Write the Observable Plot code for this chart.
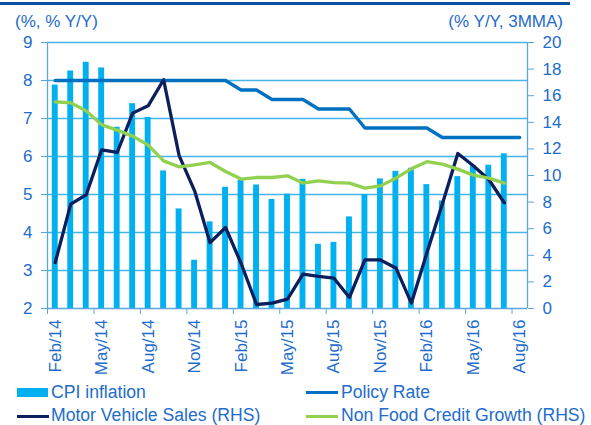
<!DOCTYPE html>
<html>
<head>
<meta charset="utf-8">
<script src="https://cdn.jsdelivr.net/npm/d3@7"></script>
<script src="https://cdn.jsdelivr.net/npm/@observablehq/plot@0.6"></script>
<style>
  html, body { margin: 0; padding: 0; background: #ffffff; }
  #wrap { position: relative; width: 591px; height: 425px; font-family: "Liberation Sans", Arial, sans-serif; color: #1e6ccc; overflow: hidden; }
  #chart { position: absolute; left: 0; top: 0; }
  .topline { position: absolute; left: 0; top: 2px; width: 570px; height: 3px; background: #0b4ea2; }
  .ttl { position: absolute; font-size: 17px; line-height: 20px; white-space: nowrap; }
  .leg { position: absolute; font-size: 17.6px; line-height: 20px; white-space: nowrap; }
  .sw { position: absolute; }
</style>
</head>
<body>
<div id="wrap">
  <div class="topline"></div>
  <div class="ttl" style="left:15px; top:12px;">(%, % Y/Y)</div>
  <div class="ttl" style="right:28px; top:12px;">(% Y/Y, 3MMA)</div>
  <div id="chart"></div>
  <div id="legend"></div>
</div>
<script>
const months = ["Feb/14","Mar/14","Apr/14","May/14","Jun/14","Jul/14","Aug/14","Sep/14","Oct/14","Nov/14","Dec/14","Jan/15",
  "Feb/15","Mar/15","Apr/15","May/15","Jun/15","Jul/15","Aug/15","Sep/15","Oct/15","Nov/15","Dec/15","Jan/16",
  "Feb/16","Mar/16","Apr/16","May/16","Jun/16","Jul/16","Aug/16"];

// CPI inflation (%, left axis)
const cpi = [7.88, 8.25, 8.48, 8.33, 6.77, 7.39, 7.03, 5.62, 4.62, 3.27, 4.28, 5.19,
  5.37, 5.25, 4.87, 5.01, 5.40, 3.69, 3.74, 4.41, 5.00, 5.41, 5.61, 5.69,
  5.26, 4.83, 5.47, 5.76, 5.77, 6.07];

// Policy rate (%, left axis)
const policy = [8, 8, 8, 8, 8, 8, 8, 8, 8, 8, 8, 8,
  7.75, 7.75, 7.5, 7.5, 7.5, 7.25, 7.25, 7.25, 6.75, 6.75, 6.75, 6.75,
  6.75, 6.5, 6.5, 6.5, 6.5, 6.5, 6.5];

// Motor vehicle sales (% Y/Y, 3MMA, right axis)
const motor = [3.46, 7.85, 8.55, 11.93, 11.73, 14.69, 15.24, 17.2, 11.5, 8.85, 4.95, 6.09,
  3.4, 0.3, 0.4, 0.7, 2.58, 2.41, 2.28, 0.83, 3.66, 3.65, 3.05, 0.4,
  4.17, 7.86, 11.65, 10.73, 9.7, 7.95];

// Non food credit growth (% Y/Y, 3MMA, right axis)
const credit = [15.54, 15.47, 14.86, 13.81, 13.41, 12.96, 12.29, 11.1, 10.65, 10.8, 10.98, 10.3,
  9.73, 9.85, 9.85, 9.98, 9.43, 9.6, 9.47, 9.43, 9.05, 9.22, 9.8, 10.5,
  11.04, 10.85, 10.48, 10.03, 9.8, 9.43];

const leftTicks = [2, 3, 4, 5, 6, 7, 8, 9];
const rightTicks = [0, 2, 4, 6, 8, 10, 12, 14, 16, 18, 20];
const labelIdx = [0, 3, 6, 9, 12, 15, 18, 21, 24, 27, 30];

// map right-axis values (0..20) onto left scale (2..9)
const toLeft = v => 2 + v * 7 / 20;
const fromLeft = v => (v - 2) * 20 / 7;

const cpiRows = cpi.map((v, i) => ({i, v}));
const policyRows = policy.map((v, i) => ({i, v}));
const motorRows = motor.map((v, i) => ({i, v: toLeft(v)}));
const creditRows = credit.map((v, i) => ({i, v: toLeft(v)}));

const textColor = "#1e6ccc";
const gridColor = "#45b4e8";
const axisColor = "#5aa5e0";

const chart = Plot.plot({
  width: 591,
  height: 375,
  marginTop: 42,
  marginBottom: 67,
  marginLeft: 47,
  marginRight: 64,
  x: {type: "linear", domain: [-0.5, 30.5]},
  y: {domain: [2, 9]},
  style: {fontFamily: "'Liberation Sans', Arial, sans-serif", fontSize: "17px", color: textColor, background: "transparent", overflow: "visible"},
  marks: [
    Plot.ruleY(leftTicks.slice(1), {stroke: gridColor, strokeWidth: 1.3}),
    Plot.rectY(cpiRows, {x1: d => d.i - 0.19, x2: d => d.i + 0.19, y1: 2, y2: "v", fill: "#00b0f0"}),
    Plot.ruleX([-0.5, 30.5], {stroke: axisColor, strokeWidth: 1.3}),
    Plot.ruleY([2], {stroke: axisColor, strokeWidth: 1.3}),
    Plot.lineY(policyRows, {x: "i", y: "v", stroke: "#0070c0", strokeWidth: 3.3}),
    Plot.lineY(motorRows, {x: "i", y: "v", stroke: "#0b1f5c", strokeWidth: 3.3}),
    Plot.lineY(creditRows, {x: "i", y: "v", stroke: "#92d050", strokeWidth: 3.3}),
    Plot.axisY({ticks: leftTicks, tickSize: 6, tickPadding: 9, label: null, stroke: axisColor, fill: textColor, tickFormat: d => String(d)}),
    Plot.axisY({anchor: "right", ticks: rightTicks.map(toLeft), tickSize: 6, tickPadding: 9, label: null, stroke: axisColor, fill: textColor, tickFormat: d => String(Math.round(fromLeft(d)))}),
    Plot.axisX({ticks: labelIdx.map(i => i - 0.5), tickSize: 6, tickFormat: () => "", label: null, stroke: axisColor}),
    Plot.axisX({ticks: labelIdx, tickSize: 0, tickPadding: 11, tickRotate: -90, tickFormat: i => months[i], label: null, fill: textColor})
  ]
});
document.getElementById("chart").appendChild(chart);

// legend
const legendItems = [
  {name: "CPI inflation", color: "#00b0f0", type: "bar", sx: 17, tx: 51, cy: 392.5},
  {name: "Policy Rate", color: "#0070c0", type: "line", sx: 306, tx: 341, cy: 392.5},
  {name: "Motor Vehicle Sales (RHS)", color: "#0b1f5c", type: "line", sx: 17, tx: 51, cy: 416},
  {name: "Non Food Credit Growth (RHS)", color: "#92d050", type: "line", sx: 306, tx: 341, cy: 416}
];
const legend = document.getElementById("legend");
for (const it of legendItems) {
  const sw = document.createElement("div");
  sw.className = "sw";
  const h = it.type === "bar" ? 9 : 3;
  const w = it.type === "bar" ? 31 : 32;
  sw.style.cssText = `left:${it.sx}px; top:${it.cy - h / 2}px; width:${w}px; height:${h}px; background:${it.color};`;
  legend.appendChild(sw);
  const t = document.createElement("div");
  t.className = "leg";
  t.textContent = it.name;
  t.style.cssText = `left:${it.tx}px; top:${it.cy - 11}px;`;
  legend.appendChild(t);
}
</script>
</body>
</html>
